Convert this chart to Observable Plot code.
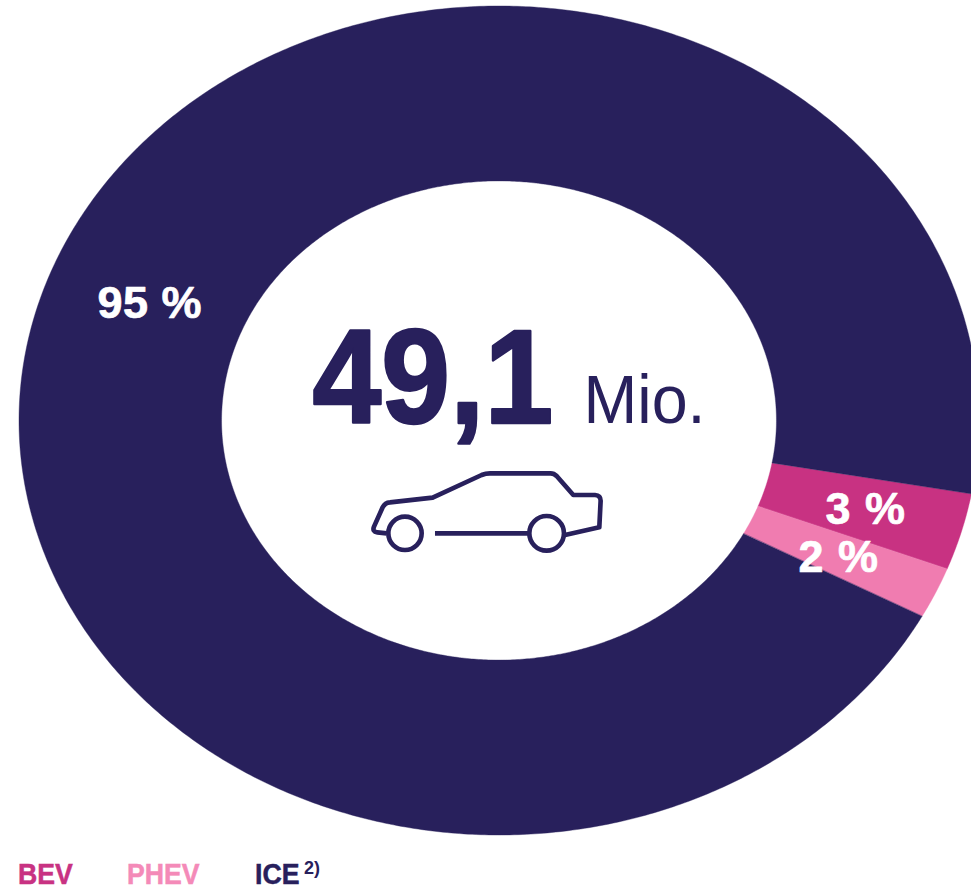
<!DOCTYPE html>
<html>
<head>
<meta charset="utf-8">
<script src="https://cdn.jsdelivr.net/npm/d3@7"></script>
<script src="https://cdn.jsdelivr.net/npm/@observablehq/plot@0.6"></script>
<style>
html,body{margin:0;padding:0;background:#fff;}
#chart svg{display:block;}
#legend{position:relative;height:40px;width:971px;font-family:"Liberation Sans",sans-serif;font-weight:700;}
#legend span{position:absolute;top:8.6px;font-size:29px;line-height:30px;white-space:nowrap;transform:scaleX(.92);transform-origin:0 50%;-webkit-text-stroke:.5px currentColor;}
#legend span.note{font-size:18px;line-height:20px;top:8px;transform:none;-webkit-text-stroke:0;}
</style>
</head>
<body>
<div id="chart"></div>
<div id="legend"></div>
<script>
// Data
const categories = ["BEV", "PHEV", "ICE"];
const shares = [3, 2, 95];
const shareLabels = ["3 %", "2 %", "95 %"];
const colors = ["#c83282", "#f07cb0", "#28205c"];
const total = "49,1";
const unit = "Mio.";
const noteMark = "2)";
const startDeg = 10.2;
const innerRatio = 0.578;

// Build ring bands (angle runs clockwise from 3 o'clock in the unit circle)
let acc = 0;
const band = categories.flatMap((c, i) => {
  const a0 = startDeg + acc * 3.6, a1 = a0 + shares[i] * 3.6;
  acc += shares[i];
  const n = Math.max(2, Math.ceil((a1 - a0) * 2));
  return d3.range(n + 1).map(k => {
    const t = (a0 + (a1 - a0) * k / n) * Math.PI / 180;
    return {
      category: c,
      x1: Math.cos(t), y1: Math.sin(t),
      x2: innerRatio * Math.cos(t), y2: innerRatio * Math.sin(t)
    };
  });
});

const font = '"Liberation Sans", Arial, sans-serif';
const styled = (ls, sw, sx = 1) => function(i, s, v, d, c, next) {
  const g = next(i, s, v, d, c);
  d3.select(g).selectAll("text")
    .attr("letter-spacing", ls)
    .attr("stroke-width", sw)
    .attr("transform", function() {
      const old = this.getAttribute("transform") || "";
      return sx === 1 ? old : `${old} scale(${sx},1)`;
    });
  return g;
};

const carIcon = () => {
  const g = d3.create("svg:g")
    .attr("transform", "translate(340,450) scale(0.3333)")
    .attr("fill", "none").attr("stroke", colors[2])
    .attr("stroke-width", 14).attr("stroke-linejoin", "round");
  g.append("path").attr("d",
    "M140,250 L112,247 Q96,245 102,230 L128,172 Q135,158 150,157 L278,143 L425,75 Q437,70 450,70 L632,70 Q642,70 650,78 L700,135 L765,135 Q782,136 782,152 L778,232 L675,255");
  g.append("path").attr("d", "M285,250 L565,250");
  g.append("circle").attr("cx", 195).attr("cy", 250).attr("r", 50);
  g.append("circle").attr("cx", 620).attr("cy", 250).attr("r", 52);
  return g.node();
};

const label = (text, dx, dy, size, opts = {}) => Plot.text([text], {
  text: d => d,
  frameAnchor: "top-left",
  textAnchor: "start",
  lineAnchor: "bottom",
  dx, dy,
  fontSize: size,
  fontWeight: 700,
  fill: "#fff",
  ...opts
});

const plot = Plot.plot({
  width: 971,
  height: 850,
  margin: 0,
  x: {domain: [-1, 1], range: [19, 979], axis: null},
  y: {domain: [-1, 1], range: [6, 835], axis: null},
  color: {domain: categories, range: colors},
  style: {fontFamily: font, background: "#fff"},
  marks: [
    Plot.area(band, {x1: "x1", y1: "y1", x2: "x2", y2: "y2", fill: "category", z: "category", stroke: "category", strokeWidth: 0.4}),
    label(shareLabels[2], 97, 317, 45, {stroke: "#fff", render: styled("0.5px", 0.7)}),
    label(shareLabels[0], 825, 523, 45, {stroke: "#fff", render: styled("1px", 0.7)}),
    label(shareLabels[1], 798, 571, 45, {stroke: "#fff", render: styled("1px", 0.7)}),
    label(total, 312, 422, 133, {fill: colors[2], stroke: colors[2], render: styled("0", 2.5, 0.93)}),
    label(unit, 583, 422, 68, {fill: colors[2], fontWeight: 400, render: styled("0", 0, 0.95)}),
    carIcon
  ]
});
document.getElementById("chart").append(plot);

const legendLefts = [18, 127, 255];
const legend = document.getElementById("legend");
categories.forEach((c, i) => {
  const s = document.createElement("span");
  s.style.left = legendLefts[i] + "px";
  s.style.color = i === 1 ? "#f48ab8" : colors[i];
  s.textContent = c;
  legend.append(s);
});
const note = document.createElement("span");
note.className = "note";
note.style.left = "304px";
note.style.color = colors[2];
note.textContent = noteMark;
legend.append(note);
</script>
</body>
</html>
